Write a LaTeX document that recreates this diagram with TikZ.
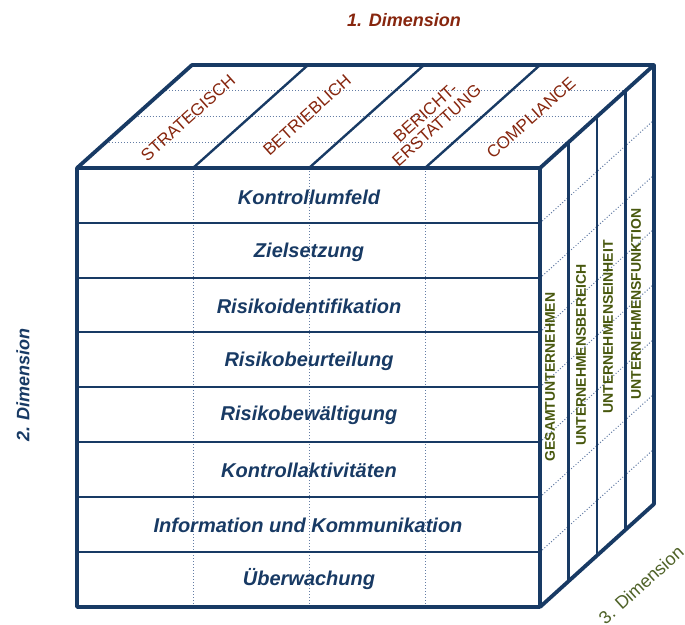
\documentclass[tikz,border=0pt]{standalone}
\usepackage{fontspec}
\usetikzlibrary{calc}
\setmainfont{Liberation Sans}
\definecolor{navy}{RGB}{24,58,100}
\definecolor{dotc}{RGB}{100,125,165}
\definecolor{dred}{RGB}{135,38,14}
\definecolor{olive}{RGB}{79,98,40}
\definecolor{olivedk}{RGB}{72,88,14}
\begin{document}
\begin{tikzpicture}[x=1pt,y=-1pt,line join=round,
  frame/.style={draw=navy,line width=3.8pt},
  inner/.style={draw=navy,line width=2.4pt},
  dots/.style={draw=dotc,line width=1pt,dotted},
  rowlab/.style={font=\fontsize{20}{22}\selectfont\bfseries\itshape,text=navy},
  toplab/.style={font=\fontsize{17}{17}\selectfont,text=dred,rotate=42,align=center},
  sidelab/.style={font=\fontsize{14}{14}\selectfont\bfseries,text=olivedk,rotate=90},
  dimlab/.style={font=\fontsize{18}{18}\selectfont\bfseries\itshape}]
\useasboundingbox (0,0) rectangle (685,624);
% corners
\coordinate (F1) at (77,168);
\coordinate (F2) at (540,168);
\coordinate (F3) at (540,607);
\coordinate (F4) at (77,607);
\coordinate (B1) at (192,65);
\coordinate (B2) at (654,65);
\coordinate (B3) at (654,504);
% front face dotted verticals
\foreach \x in {193,309,425} \draw[dots] (\x,168) -- (\x,607);
% top face dotted lines
\foreach \k in {1,2,3} \draw[dots] ($(F1)+(28.75*\k,-25.75*\k)$) -- ($(F2)+(28.5*\k,-25.75*\k)$);
% right face dotted diagonals
\foreach \y in {223,278,332,387,442,497,552} \draw[dots] (540,\y) -- (654,\y-103);
% front row lines
\foreach \y in {223,278,332,387,442,497,552} \draw[inner] (77,\y) -- (540,\y);
% top face diagonals
\foreach \x in {193,309,425} \draw[inner] (\x,168) -- (\x+115,65);
% right face verticals
\foreach \k in {1,2,3} \draw[inner] (540+28.5*\k,168-25.75*\k) -- (540+28.5*\k,607-25.75*\k);
% outlines
\draw[frame] (F1) rectangle (F3);
\draw[frame] (F1) -- (B1) -- (B2) -- (F2);
\draw[frame] (B2) -- (B3) -- (F3);
% row labels
\node[rowlab] (r1) at (309,197) {Kontrollumfeld};
\node[rowlab] (r2) at (309,252) {Zielsetzung};
\node[rowlab] (r3) at (309,306) {Risikoidentifikation};
\node[rowlab] (r4) at (309,361) {Risikobeurteilung};
\node[rowlab] (r5) at (309,415) {Risikobewältigung};
\node[rowlab] (r6) at (309,470) {Kontrollaktivitäten};
\node[rowlab] (r7) at (308,525) {Information und Kommunikation};
\node[rowlab] (r8) at (309,579) {Überwachung};
% top labels
\node[toplab] (t1) at (188,118) {STRATEGISCH};
\node[toplab] (t2) at (307,115) {BETRIEBLICH};
\node[toplab] (t3) at (431,119) {BERICHT-\\ERSTATTUNG};
\node[toplab] (t4) at (531,118) {COMPLIANCE};
% side labels
\node[sidelab] (s1) at (550,377) {GESAMTUNTERNEHMEN};
\node[sidelab] (s2) at (581,355) {UNTERNEHMENSBEREICH};
\node[sidelab] (s3) at (608,327) {UNTERNEHMENSEINHEIT};
\node[sidelab] (s4) at (636,304) {UNTERNEHMENSFUNKTION};
% dimension labels
\node[dimlab,text=dred] (d1) at (404,20) {1. Dimension};
\node[dimlab,text=navy,rotate=90] (d2) at (23,385) {2. Dimension};
\node[font=\fontsize{18}{18}\selectfont,text=olive,rotate=42] (d3) at (641,585) {3. Dimension};
\end{tikzpicture}
\end{document}
